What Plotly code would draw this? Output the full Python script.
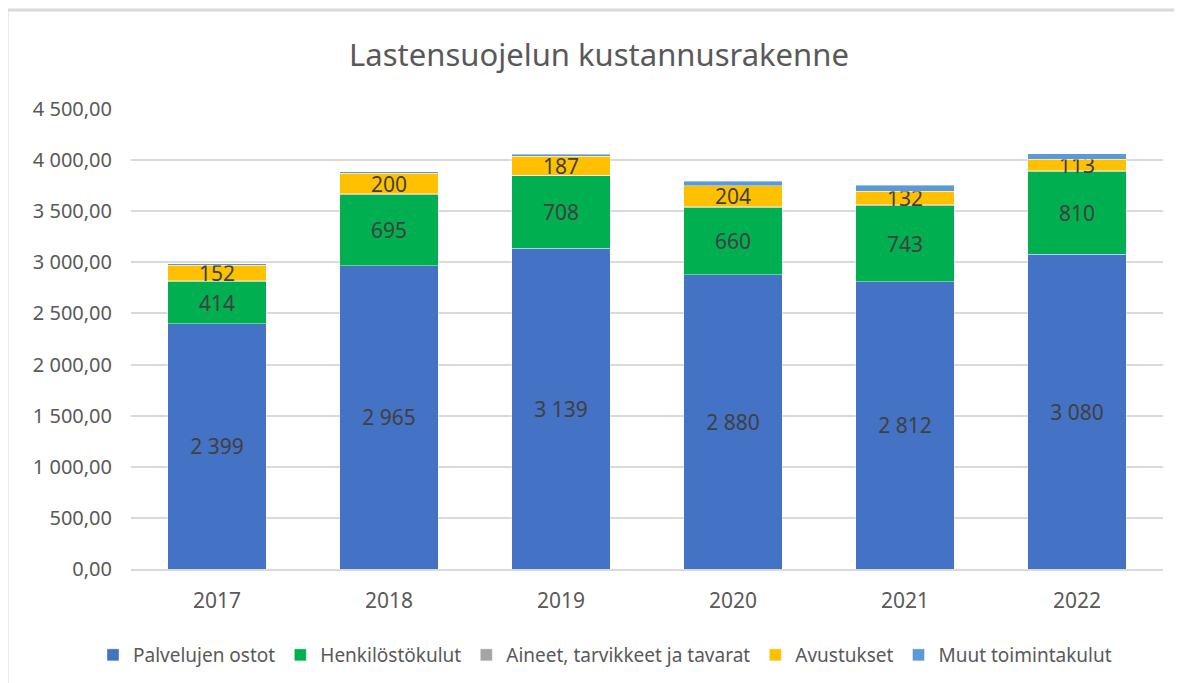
import plotly.graph_objects as go

years = ["2017", "2018", "2019", "2020", "2021", "2022"]
palvelujen = [2399, 2965, 3139, 2880, 2812, 3080]
henkilosto = [414, 695, 708, 660, 743, 810]
aineet = [5, 10, 5, 6, 7, 7]
avustukset = [152, 200, 187, 204, 132, 113]
muut = [15, 15, 20, 45, 60, 52]

series = [
    ("Palvelujen ostot", palvelujen, "#4472C4", True),
    ("Henkilöstökulut", henkilosto, "#00B050", True),
    ("Aineet, tarvikkeet ja tavarat", aineet, "#A5A5A5", False),
    ("Avustukset", avustukset, "#FFC000", True),
    ("Muut toimintakulut", muut, "#5B9BD5", False),
]

W, H = 1182, 683
OFF = 8  # page body margin offset
# target plot area in screenshot pixels
PL, PR, PT, PB = 131, 1163, 109, 569
ML, MT = PL - OFF, PT - OFF
pw, ph = PR - PL, PB - PT
MR = W - ML - pw
MB = H - MT - ph
FONT = "Noto Sans"

fig = go.Figure()
for name, vals, col, lab in series:
    fig.add_trace(go.Bar(
        x=years, y=vals, name=name,
        marker=dict(color=col, line=dict(color="rgba(255,255,255,0.5)", width=0.8)),
        texttemplate="%{y:,.0f}" if lab else None,
        textposition="inside" if lab else "none",
        insidetextanchor="middle",
        textfont=dict(color="#404040", size=21, family=FONT),
        hoverinfo="x+y+name",
    ))

def px(x):
    return (x - PL) / pw
def py(y):
    return (PB - y) / ph
def cy(y):
    return 1 - (y - OFF) / H
def cx(x):
    return (x - OFF) / W

fig.update_layout(
    width=W, height=H,
    margin=dict(l=ML, r=MR, t=MT, b=MB, autoexpand=False),
    barmode="stack", bargap=0.43,
    separators=", ",
    paper_bgcolor="white", plot_bgcolor="white",
    font=dict(family=FONT, color="#595959"),
    uniformtext=dict(minsize=21, mode="show"),
    title=dict(text="Lastensuojelun kustannusrakenne", x=cx(599), xref="container",
               xanchor="center", y=cy(55), yref="container", yanchor="middle",
               font=dict(size=31, color="#595959", family=FONT)),
    xaxis=dict(showgrid=False, showline=True, linecolor="#D9D9D9", linewidth=1.5,
               ticks="", tickfont=dict(size=21, color="#595959"), ticklabelstandoff=12),
    yaxis=dict(range=[0, 4500], dtick=500, tickformat=",.2f", showgrid=True,
               gridcolor="#D9D9D9", gridwidth=1.5, zeroline=False, showline=False,
               tickfont=dict(size=20, color="#595959"), ticklabelstandoff=18),
    legend=dict(orientation="h", x=cx(605), xref="container", xanchor="center",
                y=cy(655), yref="container", yanchor="middle",
                font=dict(size=19, color="#595959"), itemwidth=30,
                traceorder="normal"),
    shapes=[
        dict(type="line", xref="paper", yref="paper", x0=px(7), x1=px(W + 20),
             y0=py(10), y1=py(10), line=dict(color="#D9D9D9", width=3)),
        dict(type="line", xref="paper", yref="paper", x0=px(7), x1=px(7),
             y0=py(10), y1=py(H + 20), line=dict(color="#D9D9D9", width=3)),
    ],
)

fig.write_html("out.html")
